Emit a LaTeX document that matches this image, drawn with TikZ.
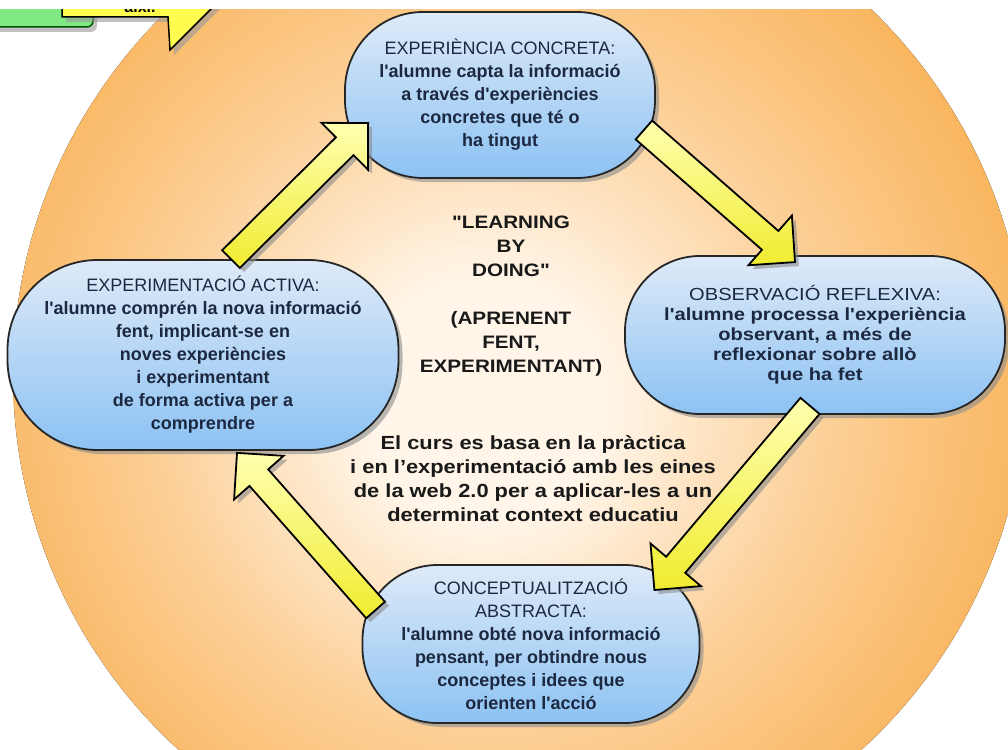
\documentclass[tikz,border=0pt]{standalone}
\usepackage{fontspec}
\setmainfont{Liberation Sans}[Ligatures=TeXOff]
\newfontfamily\widesans{Liberation Sans}[FakeStretch=1.15]
\usetikzlibrary{calc,shadows}

\definecolor{glowcore}{RGB}{255,245,232}
\definecolor{glowmid}{RGB}{252,206,148}
\definecolor{glowouter}{RGB}{249,180,92}
\definecolor{glowrim}{RGB}{245,160,58}
\definecolor{phasetop}{RGB}{222,234,248}
\definecolor{phasebot}{RGB}{140,194,243}
\definecolor{phaseink}{RGB}{28,40,64}
\definecolor{flowlight}{RGB}{255,255,176}
\definecolor{flowdeep}{RGB}{240,236,48}
\definecolor{memogreen}{RGB}{128,232,128}
\definecolor{memoyellow}{RGB}{255,252,80}

\pgfdeclareradialshading{discglow}{\pgfpoint{-2bp}{-1.5bp}}{color(0bp)=(glowcore); color(6bp)=(glowcore); color(17bp)=(glowmid); color(27bp)=(glowouter); color(35bp)=(glowrim); color(50bp)=(glowrim)}

\tikzset{
  phase/.style={rectangle, rounded corners=#1, draw=black!85, line width=1.8pt,
    top color=phasetop, bottom color=phasebot, text=phaseink, align=center, inner sep=0pt,
    font=\bfseries\fontsize{18}{23}\selectfont,
    drop shadow={shadow xshift=4pt, shadow yshift=-4pt, fill=black!45, opacity=.6}},
  phase/.default=75pt,
  flow/.style={draw=black, line width=1.8pt, line join=miter, top color=flowlight, bottom color=flowdeep,
    drop shadow={shadow xshift=4pt, shadow yshift=-4pt, fill=black!45, opacity=.6}},
  memo/.style={line width=1.5pt, drop shadow={shadow xshift=4pt, shadow yshift=-5pt, fill=black!40, opacity=.6}},
  motto/.style={align=center, text=black!90, font=\widesans\bfseries\fontsize{18}{24}\selectfont}
}

% block arrow from tail #2 to tip #3
\newcommand\flowarrow[3]{%
  \coordinate (#1-b) at ($(#3)!33pt!(#2)$);
  \draw[flow] ($(#2)!12.5pt!90:(#3)$) -- ($(#1-b)!12.5pt!-90:(#2)$) -- ($(#1-b)!33pt!-90:(#2)$)
    -- (#3) -- ($(#1-b)!33pt!90:(#2)$) -- ($(#1-b)!12.5pt!90:(#2)$) -- ($(#2)!12.5pt!-90:(#3)$) -- cycle;
}

\begin{document}
\begin{tikzpicture}[x=1pt,y=-1pt]
\useasboundingbox (0,0) rectangle (1008,749);
\fill[white] (0,0) rectangle (1008,749);
\begin{scope}
\clip (0,10) rectangle (1008,749);
\fill[shading=discglow] (520,375) circle (507pt);

% note fragments at the top edge
\draw[memo, fill=memogreen, draw=green!35!black, rounded corners=6pt] (-20,-10) rectangle (93,27);
\draw[memo, fill=memoyellow, draw=black] (62,-10) -- (62,17) -- (168,17) -- (170,50) -- (225,-5) -- cycle;
\node[anchor=base, font=\bfseries\fontsize{16}{16}\selectfont] (memo) at (140,13) {aixi.};

\node[phase=78pt, minimum width=310pt, minimum height=166pt] (exp) at (500,95)
  {\textmd{EXPERIÈNCIA CONCRETA:}\\l'alumne capta la informació\\a través d'experiències\\concretes que té o\\ha tingut};
\node[phase, minimum width=380pt, minimum height=158pt, font=\widesans\bfseries\fontsize{17.5}{20}\selectfont] (obs) at (815,335)
  {\textmd{OBSERVACIÓ REFLEXIVA:}\\l'alumne processa l'experiència\\observant, a més de\\reflexionar sobre allò\\que ha fet};
\node[phase, minimum width=337pt, minimum height=158pt] (con) at (531,644)
  {\textmd{CONCEPTUALITZACIÓ}\\\textmd{ABSTRACTA:}\\l'alumne obté nova informació\\pensant, per obtindre nous\\conceptes i idees que\\orienten l'acció};
\node[phase=90pt, minimum width=391pt, minimum height=190pt] (act) at (203,355)
  {\textmd{EXPERIMENTACIÓ ACTIVA:}\\l'alumne comprén la nova informació\\fent, implicant-se en\\noves experiències\\i experimentant\\de forma activa per a\\comprendre};

\node[motto] (motto) at (511,296) {"LEARNING\\BY\\DOING"\\[24pt](APRENENT\\FENT,\\EXPERIMENTANT)};
\node[motto, font=\widesans\bfseries\fontsize{19}{24}\selectfont] (course) at (533,479)
  {El curs es basa en la pràctica\\i en l’experimentació amb les eines\\de la web 2.0 per a aplicar-les a un\\determinat context educatiu};

\coordinate (t1) at ([xshift=28pt]act.north);
\coordinate (h1) at ([xshift=24pt,yshift=-28pt]exp.west);
\coordinate (t2) at ([xshift=-12pt,yshift=-35pt]exp.east);
\coordinate (h2) at ([xshift=-20pt,yshift=-7pt]obs.north);
\coordinate (t3) at ([xshift=-5pt,yshift=9pt]obs.south);
\coordinate (h3) at ([xshift=-46pt,yshift=54pt]con.east);
\coordinate (t4) at ([xshift=14pt,yshift=34pt]con.west);
\coordinate (h4) at ([xshift=34pt,yshift=-2pt]act.south);
\flowarrow{f1}{t1}{h1}
\flowarrow{f2}{t2}{h2}
\flowarrow{f3}{t3}{h3}
\flowarrow{f4}{t4}{h4}
\end{scope}
\end{tikzpicture}
\end{document}
